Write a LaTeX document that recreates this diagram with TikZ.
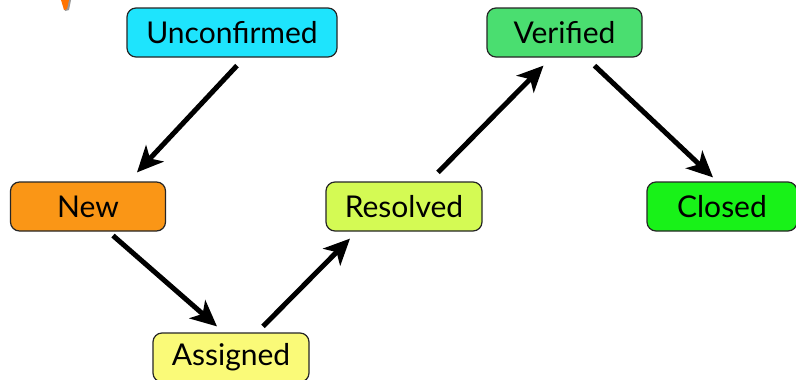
\documentclass[tikz,border=0pt]{standalone}
\usepackage{fontspec}
\setmainfont{Lato}
\usetikzlibrary{arrows.meta}
\definecolor{uncol}{RGB}{30,228,253}
\definecolor{newcol}{RGB}{250,150,22}
\definecolor{ascol}{RGB}{250,250,120}
\definecolor{rescol}{RGB}{212,250,84}
\definecolor{vercol}{RGB}{74,222,112}
\definecolor{clcol}{RGB}{24,242,24}
\begin{document}
\begin{tikzpicture}[x=1pt,y=-1pt,
  state/.style={draw=black!85,line width=1.2pt,rounded corners=9pt,minimum height=49pt,font=\fontsize{30}{33}\selectfont,inner sep=0pt},
  flow/.style={line width=5pt,-{Stealth[length=26pt,width=24pt,inset=7pt]}}]
\useasboundingbox (0,0) rectangle (796,380);
\fill[white] (0,0) rectangle (796,380);
\fill[black!40] (64,0) -- (71,0) -- (69,10) -- (65,11) -- cycle;
\fill[orange!90!red] (61,0) -- (69,0) -- (67,9) -- (64,10) -- cycle;
\node[state,fill=uncol,minimum width=210pt] (unc) at (232,32.5) {Unconfirmed};
\node[state,fill=newcol,minimum width=155pt] (new) at (88,206.5) {New};
\node[state,fill=ascol,minimum width=156pt] (asg) at (231,357.5) {Assigned};
\node[state,fill=rescol,minimum width=156pt] (res) at (404,206.5) {Resolved};
\node[state,fill=vercol,minimum width=155pt] (ver) at (564.5,32.5) {Verified};
\node[state,fill=clcol,minimum width=150pt] (clo) at (722,206.5) {Closed};
\draw[flow] ([shift={(5,8)}]unc.south) -- ([shift={(49,-9)}]new.north);
\draw[flow] ([shift={(25,4)}]new.south) -- ([shift={(-14,-6)}]asg.north);
\draw[flow] ([shift={(32,-6)}]asg.north) -- ([shift={(-54,7)}]res.south);
\draw[flow] ([shift={(34,-9)}]res.north) -- ([shift={(-21,8)}]ver.south);
\draw[flow] ([shift={(30,8)}]ver.south) -- ([shift={(-9,-4)}]clo.north);
\end{tikzpicture}
\end{document}
